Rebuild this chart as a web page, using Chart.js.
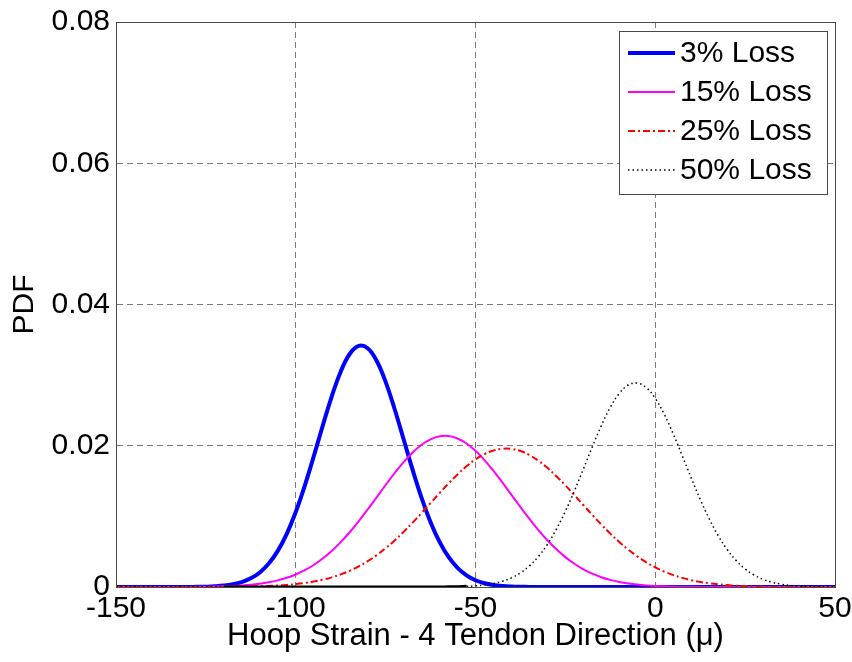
<!DOCTYPE html>
<html>
<head>
<meta charset="utf-8">
<script src="https://cdn.jsdelivr.net/npm/chart.js@4.4.1/dist/chart.umd.min.js"></script>
<style>
  html, body { margin: 0; padding: 0; background: #ffffff; }
  #wrap { width: 852px; height: 662px; }
</style>
</head>
<body>
<div id="wrap"><canvas id="c" width="852" height="662"></canvas></div>
<script>
// Hoop strain sample points (micro-strain)
const strain = [
  -150, -147.5, -145, -142.5, -140, -137.5, -135, -132.5, -130, -127.5,
  -125, -122.5, -120, -117.5, -115, -112.5, -110, -107.5, -105, -102.5,
  -100, -97.5, -95, -92.5, -90, -87.5, -85, -82.5, -80, -77.5,
  -75, -72.5, -70, -67.5, -65, -62.5, -60, -57.5, -55, -52.5,
  -50, -47.5, -45, -42.5, -40, -37.5, -35, -32.5, -30, -27.5,
  -25, -22.5, -20, -17.5, -15, -12.5, -10, -7.5, -5, -2.5,
  0, 2.5, 5, 7.5, 10, 12.5, 15, 17.5, 20, 22.5,
  25, 27.5, 30, 32.5, 35, 37.5, 40, 42.5, 45, 47.5, 50
];

// PDF values for each prestress loss level
const loss3 = [
  0, 0, 0, 0, 0, 0.000001, 0.0000016, 0.0000039, 0.0000094, 0.0000214,
  0.0000469, 0.0000985, 0.000198, 0.00038, 0.000698, 0.001226, 0.002063, 0.003322, 0.005116, 0.007534,
  0.01062, 0.01432, 0.01849, 0.02283, 0.02697, 0.03049, 0.03299, 0.03414, 0.03381, 0.03204,
  0.02905, 0.0252, 0.02092, 0.01661, 0.01262, 0.00918, 0.00639, 0.00425, 0.00271, 0.00165,
  0.00096, 0.000537, 0.000287, 0.000146, 0.0000715, 0.0000335, 0.000015, 0.0000064, 0.0000026, 0.000001,
  0, 0, 0, 0, 0, 0, 0, 0, 0, 0,
  0, 0, 0, 0, 0, 0, 0, 0, 0, 0,
  0, 0, 0, 0, 0, 0, 0, 0, 0, 0, 0
];

const loss15 = [
  0, 0, 0, 0.0000008, 0.0000014, 0.0000026, 0.0000045, 0.0000078, 0.000013, 0.000022,
  0.000036, 0.000058, 0.000091, 0.00014, 0.000212, 0.000316, 0.000463, 0.000666, 0.00094, 0.001304,
  0.001776, 0.002375, 0.00312, 0.004025, 0.0051, 0.006347, 0.007755, 0.009309, 0.010972, 0.012701,
  0.014439, 0.01612, 0.017676, 0.019035, 0.020133, 0.02091, 0.02133, 0.02137, 0.021024, 0.020315,
  0.019279, 0.017965, 0.016444, 0.014781, 0.013048, 0.011314, 0.009632, 0.008057, 0.006615, 0.005337,
  0.004227, 0.003289, 0.002512, 0.001885, 0.001389, 0.001005, 0.000714, 0.000499, 0.000342, 0.00023,
  0.000152, 0.000099, 0.000063, 0.000039, 0.000024, 0.0000147, 0.0000087, 0.0000051, 0.000003, 0.0000017,
  0.000001, 0, 0, 0, 0, 0, 0, 0, 0, 0, 0
];

const loss25 = [
  0, 0, 0, 0.0000001, 0.0000002, 0.0000006, 0.000001, 0.0000016, 0.0000027, 0.0000045,
  0.0000072, 0.0000115, 0.000018, 0.000028, 0.000043, 0.000065, 0.000096, 0.00014, 0.000203, 0.000288,
  0.000405, 0.00056, 0.000764, 0.001027, 0.001361, 0.00178, 0.002295, 0.002914, 0.00365, 0.00451,
  0.005492, 0.006593, 0.007805, 0.009108, 0.01048, 0.011888, 0.013297, 0.014663, 0.01594, 0.017087,
  0.018057, 0.018816, 0.01933, 0.019578, 0.01955, 0.019247, 0.018683, 0.017881, 0.016872, 0.015694,
  0.014394, 0.013016, 0.011605, 0.010202, 0.00884, 0.007554, 0.006364, 0.005284, 0.004328, 0.003493,
  0.002781, 0.002183, 0.001688, 0.001288, 0.000969, 0.000719, 0.000525, 0.000378, 0.000269, 0.000188,
  0.00013, 0.000089, 0.00006, 0.000039, 0.000026, 0.000016, 0.00001, 0.000006, 0.000004, 0.000002, 0.000001
];

const loss50 = [
  0, 0, 0, 0, 0, 0, 0, 0, 0, 0,
  0, 0, 0, 0, 0, 0, 0, 0, 0, 0,
  0, 0, 0, 0, 0, 0, 0, 0, 0, 0.0000001,
  0.0000001, 0.0000002, 0.0000006, 0.0000013, 0.0000028, 0.000006, 0.0000125, 0.000025, 0.000049, 0.000091,
  0.000166, 0.000291, 0.000495, 0.000815, 0.001298, 0.002004, 0.002991, 0.00432, 0.006043, 0.008184,
  0.010725, 0.013606, 0.016704, 0.019854, 0.02284, 0.025435, 0.027415, 0.0286, 0.028881, 0.02823,
  0.026709, 0.024459, 0.021681, 0.018603, 0.01545, 0.012418, 0.009664, 0.007277, 0.005306, 0.003743,
  0.002557, 0.00169, 0.001082, 0.00067, 0.000402, 0.000233, 0.000131, 0.000071, 0.000038, 0.000019, 0.0000094
];

const seriesLabels = ['3% Loss', '15% Loss', '25% Loss', '50% Loss'];
const xTicks = [-150, -100, -50, 0, 50];
const yTicks = [0, 0.02, 0.04, 0.06, 0.08];
const xTitle = 'Hoop Strain - 4 Tendon Direction (\u03bc)';
const yTitle = 'PDF';

const FONT = "'Liberation Sans', Arial, Helvetica, sans-serif";
Chart.defaults.font.family = FONT;
Chart.defaults.color = '#000000';

const pts = arr => strain.map((x, i) => ({ x: x, y: arr[i] }));

const AXIS_COLOR = '#4a4a4a';
const GRID_COLOR = '#7a7a7a';

// part of the 50% curve that lies flat on the baseline is drawn solid
const flatTail = c => c.p0.parsed.x >= -120 && c.p1.parsed.x <= -52.5;

// Box around the plot area plus a boxed legend in the upper-right corner
const framePlugin = {
  id: 'frame',
  afterDraw(chart) {
    const { ctx, chartArea: a } = chart;
    ctx.save();
    ctx.strokeStyle = AXIS_COLOR;
    ctx.lineWidth = 1;
    ctx.setLineDash([]);
    ctx.strokeRect(Math.round(a.left) + 0.5, Math.round(a.top) + 0.5,
                   Math.round(a.right - a.left), Math.round(a.bottom - a.top));

    // legend
    const bx = 619.5, by = 31.5, bw = 208, bh = 163;
    ctx.fillStyle = '#ffffff';
    ctx.fillRect(bx, by, bw, bh);
    ctx.strokeStyle = AXIS_COLOR;
    ctx.strokeRect(bx, by, bw, bh);
    const rowY0 = 53, rowGap = 39;
    ctx.font = '30px ' + FONT;
    ctx.textBaseline = 'middle';
    ctx.textAlign = 'left';
    chart.data.datasets.forEach((ds, i) => {
      const y = rowY0 + i * rowGap;
      ctx.beginPath();
      ctx.strokeStyle = ds.borderColor;
      ctx.lineWidth = ds.borderWidth;
      ctx.setLineDash(ds.borderDash || []);
      ctx.moveTo(628, y);
      ctx.lineTo(675, y);
      ctx.stroke();
      ctx.setLineDash([]);
      ctx.fillStyle = '#000000';
      ctx.fillText(ds.label, 680, y + 1);
    });
    ctx.restore();
  }
};

new Chart(document.getElementById('c'), {
  type: 'line',
  data: {
    datasets: [
      { label: seriesLabels[0], data: pts(loss3), borderColor: '#0000ff', borderWidth: 4,
        order: 4 },
      { label: seriesLabels[1], data: pts(loss15), borderColor: '#ff00ff', borderWidth: 2,
        order: 3 },
      { label: seriesLabels[2], data: pts(loss25), borderColor: '#ff0000', borderWidth: 2,
        borderDash: [7, 3, 2, 3], order: 2 },
      { label: seriesLabels[3], data: pts(loss50), borderColor: '#000000', borderWidth: 1.5,
        borderDash: [1.5, 3], order: 1,
        segment: {
          borderDash: c => (flatTail(c) ? [] : undefined),
          borderWidth: c => (flatTail(c) ? 3 : undefined)
        } }
    ]
  },
  options: {
    responsive: false,
    animation: false,
    devicePixelRatio: 1,
    layout: { padding: { top: 22, right: 17, left: 0, bottom: 0 } },
    elements: {
      point: { radius: 0, hoverRadius: 0 },
      line: { tension: 0.4, fill: false }
    },
    datasets: { line: { clip: 0 } },
    plugins: {
      legend: { display: false },
      tooltip: { enabled: false }
    },
    scales: {
      x: {
        type: 'linear',
        min: -150, max: 50,
        afterBuildTicks: s => { s.ticks = xTicks.map(v => ({ value: v })); },
        afterFit: s => { s.height = 75; s.paddingLeft = 0; s.paddingRight = 0; },
        ticks: { font: { size: 30 }, color: '#000', padding: 4, maxRotation: 0, autoSkip: false,
                 callback: v => String(v) },
        grid: { color: GRID_COLOR, lineWidth: 1, drawTicks: false },
        border: { display: true, color: AXIS_COLOR, dash: [6, 4] },
        title: { display: true, text: xTitle, font: { size: 31 }, color: '#000',
                 padding: { top: 0, bottom: 7 } }
      },
      y: {
        type: 'linear',
        min: 0, max: 0.08,
        afterBuildTicks: s => { s.ticks = yTicks.map(v => ({ value: v })); },
        afterFit: s => { s.width = 116; s.paddingTop = 0; s.paddingBottom = 0; },
        ticks: { font: { size: 30 }, color: '#000', padding: 6, autoSkip: false,
                 callback: v => (v === 0 ? '0' : v.toFixed(2)) },
        grid: { color: GRID_COLOR, lineWidth: 1, drawTicks: false },
        border: { display: true, color: AXIS_COLOR, dash: [6, 4] },
        title: { display: true, text: yTitle, font: { size: 30 }, color: '#000',
                 padding: { top: 7, bottom: 0 } }
      }
    }
  },
  plugins: [framePlugin]
});
</script>
</body>
</html>
